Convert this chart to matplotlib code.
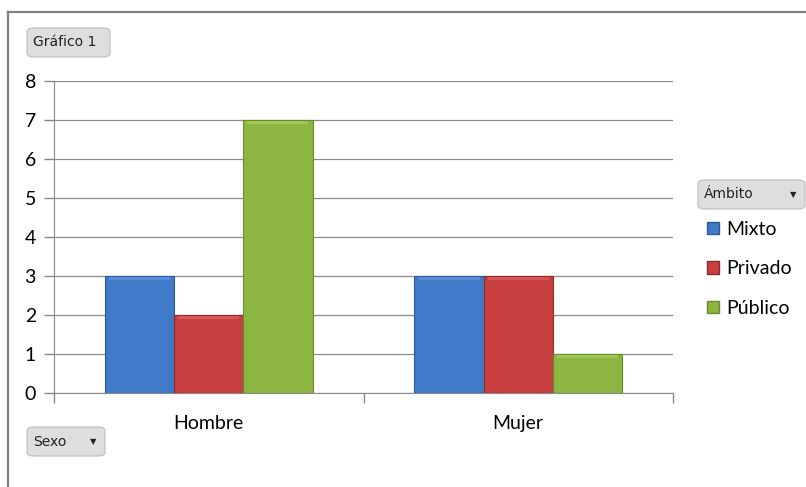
import matplotlib
matplotlib.use('Agg')
import matplotlib.pyplot as plt
import numpy as np
from matplotlib.patches import FancyBboxPatch, Patch
from matplotlib.lines import Line2D

# data
categorias = ['Hombre', 'Mujer']
series = ['Mixto', 'Privado', 'Público']
mixto = [3, 3]
privado = [2, 3]
publico = [7, 1]
colores = ['#3E7AC8', '#C73F3E', '#8CB542']
bordes = ['#2C5A95', '#8F2A29', '#6A8A2E']
claros = ['#5A95DC', '#DD5C5B', '#A6CC58']

plt.rcParams['font.family'] = ['Lato', 'DejaVu Sans']

fig = plt.figure(figsize=(8.06, 4.87), dpi=100)
fig.patch.set_facecolor('white')
ax = fig.add_axes([54/806, 1 - 393/487, (673 - 54)/806, (393 - 81)/487])

x = np.arange(len(categorias))
ancho = 0.2235
valores = [mixto, privado, publico]
for i, vals in enumerate(valores):
    pos = x + (i - 1) * ancho
    ax.bar(pos, vals, ancho, color=colores[i], edgecolor=bordes[i],
           linewidth=0.8, zorder=3)
    # bisel superior
    ax.bar(pos, [0.06] * len(vals), ancho * 0.88, bottom=np.array(vals) - 0.09,
           color=claros[i], linewidth=0, zorder=4, alpha=0.8)

ax.set_xlim(-0.5, 1.5)
ax.set_ylim(0, 8)
ax.set_yticks(range(0, 9))
ax.set_xticks(x)
ax.set_xticklabels(categorias)
ax.set_xticks([-0.5, 0.5, 1.5], minor=True)
ax.tick_params(axis='x', which='major', length=0, pad=16, labelsize=14)
ax.tick_params(axis='x', which='minor', length=7, color='#888888', width=1)
ax.tick_params(axis='y', length=7, color='#888888', width=1, labelsize=14, pad=6)
ax.grid(axis='y', color='#8c8c8c', linewidth=0.9, zorder=0)
ax.set_axisbelow(True)
for lado in ['top', 'right']:
    ax.spines[lado].set_visible(False)
ax.spines['left'].set_color('#888888')
ax.spines['bottom'].set_color('#888888')

# marco del grafico
fig.add_artist(Line2D([8/806, 1], [1 - 12/487] * 2, color='#808080', lw=1.6))
fig.add_artist(Line2D([8/806] * 2, [0, 1 - 12/487], color='#808080', lw=1.6))

# leyenda
handles = [Patch(facecolor=colores[i], edgecolor=bordes[i], label=s)
           for i, s in enumerate(series)]
fig.legend(handles=handles, loc='upper left', bbox_to_anchor=(707/806, 1 - 221/487),
           frameon=False, fontsize=14, handlelength=0.6, handleheight=0.6,
           handletextpad=0.4, labelspacing=1.15, borderaxespad=0, borderpad=0)


def boton(x0, y0, w, h, texto, flecha):
    caja = FancyBboxPatch((x0/806, 1 - (y0 + h)/487), w/806, h/487,
                          boxstyle='round,pad=0,rounding_size=0.008',
                          transform=fig.transFigure, facecolor='#dedede',
                          edgecolor='#bdbdbd', linewidth=0.8)
    fig.add_artist(caja)
    fig.text((x0 + 6)/806, 1 - (y0 + h/2)/487, texto, ha='left', va='center',
             fontsize=10, color='#222222', family=['DejaVu Sans'])
    if flecha:
        fig.text((x0 + w - 12)/806, 1 - (y0 + h/2)/487, '▼', ha='center',
                 va='center', fontsize=6, color='#222222', family=['DejaVu Sans'])


boton(27, 28, 83, 29, 'Gráfico 1', False)
boton(698, 180, 107, 29, 'Ámbito', True)
boton(27, 427, 78, 29, 'Sexo', True)

fig.savefig('out.png', dpi=100, facecolor='white')
